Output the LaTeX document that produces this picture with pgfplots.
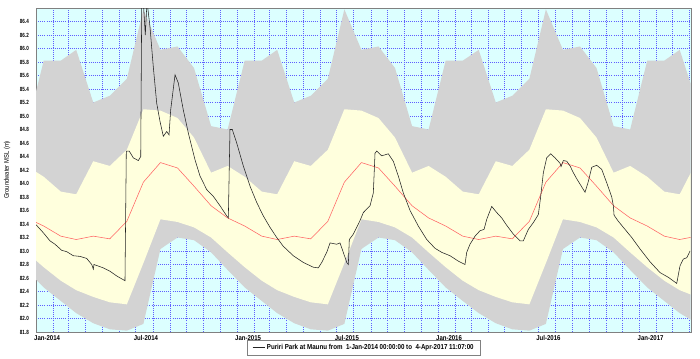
\documentclass[border=0pt]{standalone}
\usepackage{fontspec}
\setmainfont{Liberation Sans}
\newfontfamily\tickfont{Liberation Sans}[FakeStretch=0.86]
\newfontfamily\ytickfont{Liberation Sans}[FakeStretch=0.76]
\usepackage{pgfplots}
\pgfplotsset{compat=1.18}
\usepgfplotslibrary{fillbetween}
\usepackage{pgfplotstable}

\definecolor{bgcyan}{RGB}{220,255,255}
\definecolor{bandgrey}{RGB}{211,211,211}
\definecolor{bandyellow}{RGB}{255,255,221}
\definecolor{medred}{RGB}{255,100,100}
\definecolor{gridblue}{RGB}{95,95,255}
\definecolor{obsblack}{RGB}{35,35,35}

% mid-month values of the percentile bands (days since 1-Jan-2014)
\pgfplotstableread{
day ug uy ly lg med
-17 84.80 84.26 82.98 82.72 83.49
14 85.82 84.10 82.76 82.46 83.37
45 85.82 83.88 82.56 82.26 83.22
73 85.98 83.84 82.42 82.08 83.17
104 85.20 84.33 82.32 81.93 83.22
134 85.30 84.26 82.24 81.84 83.18
165 85.55 84.50 82.21 81.82 83.44
195 86.58 85.10 82.82 81.92 84.02
226 85.98 85.08 83.47 83.03 84.31
257 86.03 84.97 83.43 83.20 84.23
287 85.71 84.68 83.35 83.16 83.96
318 84.85 84.16 83.20 82.98 83.67
348 84.80 84.26 82.98 82.72 83.49
379 85.82 84.10 82.76 82.46 83.37
410 85.82 83.88 82.56 82.26 83.22
438 85.98 83.84 82.42 82.08 83.17
469 85.20 84.33 82.32 81.93 83.22
499 85.30 84.26 82.24 81.84 83.18
530 85.55 84.50 82.21 81.82 83.44
560 86.58 85.10 82.82 81.92 84.02
591 85.98 85.08 83.47 83.03 84.31
622 86.03 84.97 83.43 83.20 84.23
652 85.71 84.68 83.35 83.16 83.96
683 84.85 84.16 83.20 82.98 83.67
713 84.80 84.26 82.98 82.72 83.49
744 85.82 84.10 82.76 82.46 83.37
775 85.82 83.88 82.56 82.26 83.22
804 85.98 83.84 82.42 82.08 83.17
835 85.20 84.33 82.32 81.93 83.22
865 85.30 84.26 82.24 81.84 83.18
896 85.55 84.50 82.21 81.82 83.44
926 86.58 85.10 82.82 81.92 84.02
957 85.98 85.08 83.47 83.03 84.31
988 86.03 84.97 83.43 83.20 84.23
1018 85.71 84.68 83.35 83.16 83.96
1049 84.85 84.16 83.20 82.98 83.67
1079 84.80 84.26 82.98 82.72 83.49
1110 85.82 84.10 82.76 82.46 83.37
1141 85.82 83.88 82.56 82.26 83.22
1169 85.98 83.84 82.42 82.08 83.17
1200 85.20 84.33 82.32 81.93 83.22
}\bands

\pgfplotstableread{
day lvl
0 83.39
13.3 83.27
25.4 83.15
34.5 83.10
46.7 83.01
55.8 82.99
67.7 82.93
79.9 82.92
92.1 82.89
101.2 82.80
104.1 82.73
105.3 82.80
122.2 82.75
134.4 82.70
146.6 82.63
161.6 82.56
164.0 84.48
169.4 84.48
176.7 84.38
185.8 84.34
190.2 84.40
192.0 86.65
194.9 86.70
198.5 86.20
201.6 86.70
207.0 86.32
213.0 85.73
219.2 85.19
225.2 84.92
231.2 84.70
237.4 84.77
241.6 84.72
244.6 85.09
252.5 85.61
258.4 85.49
267.5 85.09
276.6 84.75
288.8 84.35
297.9 84.11
310.0 83.91
322.0 83.81
334.2 83.67
346.4 83.52
349.3 83.49
352.3 84.80
356.5 84.80
364.5 84.60
376.5 84.26
388.7 83.96
400.8 83.72
412.8 83.52
425.0 83.35
437.2 83.20
449.1 83.07
467.3 82.93
485.5 82.83
503.6 82.76
512.7 82.75
518.9 82.83
528.0 82.98
534.0 83.12
546.1 83.10
552.1 83.12
558.1 82.98
564.3 82.83
567.2 82.80
569.0 83.17
576.3 83.25
588.4 83.45
594.5 83.57
606.6 83.67
612.6 83.86
615.7 84.45
618.8 84.48
627.9 84.41
639.8 84.44
648.9 84.33
658.0 84.11
667.1 83.86
679.3 83.60
694.3 83.37
709.6 83.17
724.7 83.04
736.8 82.98
751.9 82.93
767.0 82.85
779.1 82.80
782.2 82.98
788.2 83.10
797.3 83.22
806.4 83.30
813.7 83.32
818.6 83.47
827.6 83.66
836.7 83.57
845.8 83.49
854.9 83.38
866.9 83.25
879.0 83.15
885.0 83.15
894.1 83.32
903.2 83.42
912.3 83.54
916.3 83.79
921.4 84.16
927.5 84.38
934.8 84.44
942.6 84.38
951.7 84.30
953.5 84.25
957.7 84.34
963.9 84.33
969.9 84.26
975.9 84.16
982.0 84.07
991.1 83.95
997.1 83.87
1003.1 84.03
1009.3 84.24
1018.3 84.27
1027.4 84.21
1036.5 84.01
1045.6 83.80
1048.5 83.67
1049.8 83.53
1057.6 83.44
1066.7 83.35
1081.9 83.20
1097.0 83.03
1115.2 82.84
1133.3 82.68
1148.4 82.61
1163.6 82.52
1169.6 82.78
1175.6 82.88
1181.8 82.90
1187.8 83.00
}\obs

\begin{document}
\begin{tikzpicture}
\begin{axis}[
  at={(36bp,27bp)}, anchor=south west,
  scale only axis, width=654.7bp, height=324bp,
  xmin=0, xmax=1189, ymin=81.8, ymax=86.6,
  axis background/.style={fill=bgcyan},
  xtick={0,181,365,546,730,912,1096},
  xticklabels={Jan-2014,Jul-2014,Jan-2015,Jul-2015,Jan-2016,Jul-2016,Jan-2017},
  minor xtick={31,59,90,120,151,212,243,273,304,334,396,424,455,485,516,577,608,638,669,699,761,790,821,851,882,943,974,1004,1035,1065,1127,1155,1186},
  ytick={81.8,82.0,82.2,82.4,82.6,82.8,83.0,83.2,83.4,83.6,83.8,84.0,84.2,84.4,84.6,84.8,85.0,85.2,85.4,85.6,85.8,86.0,86.2,86.4},
  xmajorgrids, xminorgrids, ymajorgrids,
  grid style={color=gridblue, line width=0.45bp, dash pattern=on 1bp off 1.1bp},
  minor grid style={color=gridblue, line width=0.45bp, dash pattern=on 1bp off 1.1bp},
  major tick length=0pt, minor tick length=0pt,
  axis line style={draw=gray},
  /pgf/number format/assume math mode=true,
  x tick label style={font=\tickfont\bfseries\fontsize{7bp}{8bp}\selectfont,
     anchor=north west, inner sep=0pt, xshift=-2bp, yshift=-3bp},
  y tick label style={font=\ytickfont\bfseries\fontsize{6bp}{7bp}\selectfont,
     inner sep=0pt, xshift=-7bp, /pgf/number format/.cd, fixed, fixed zerofill, precision=1},
  every axis y label/.style={at={(axis description cs:0,0.5)}, xshift=-29bp, rotate=90, anchor=center,
     font=\tickfont\fontsize{6.8bp}{7.5bp}\selectfont},
  ylabel={Groundwater MSL (m)},
  legend style={at={(axis description cs:0.501,0)}, anchor=north, yshift=-8bp, draw=gray, fill=white,
     font=\tickfont\bfseries\fontsize{7.2bp}{8bp}\selectfont, inner xsep=5bp, inner ysep=2bp},
  legend image code/.code={\draw[#1] (0bp,0bp) -- (12bp,0bp);},
]
\addplot[name path=ug, draw=none, forget plot] table[x=day, y=ug] {\bands};
\addplot[name path=lg, draw=none, forget plot] table[x=day, y=lg] {\bands};
\addplot[name path=uy, draw=none, forget plot] table[x=day, y=uy] {\bands};
\addplot[name path=ly, draw=none, forget plot] table[x=day, y=ly] {\bands};
\addplot[fill=bandgrey, draw=none, forget plot] fill between[of=ug and lg];
\addplot[fill=bandyellow, draw=none, forget plot] fill between[of=uy and ly];
\addplot[medred, line width=0.55bp, forget plot] table[x=day, y=med] {\bands};
\addplot[obsblack, line width=0.55bp] table[x=day, y=lvl] {\obs};
\addlegendentry{Puriri Park at Maunu from\ \ 1-Jan-2014 00:00:00 to\ \ 4-Apr-2017 11:07:00}
\end{axis}
\pgfresetboundingbox
\path[use as bounding box] (0,0) rectangle (700bp,359bp);
\end{tikzpicture}
\end{document}
